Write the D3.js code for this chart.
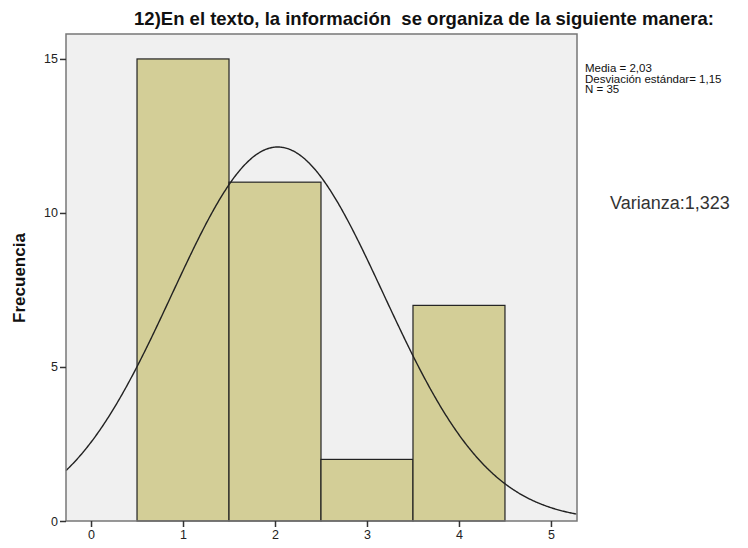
<!DOCTYPE html>
<html><head><meta charset="utf-8">
<script src="https://cdn.jsdelivr.net/npm/d3@7"></script>
<style>body{margin:0;background:#fff}svg{display:block}text{white-space:pre}</style>
</head><body>
<svg id="c" width="748" height="548"></svg>
<script>
const binCenters = [1, 2, 3, 4];
const counts = [15, 11, 2, 7];
const xTicks = [0, 1, 2, 3, 4, 5];
const yTicks = [0, 5, 10, 15];
const titleText = "12)En el texto, la información  se organiza de la siguiente manera:";
const statsLines = ["Media = 2,03", "Desviación estándar= 1,15", "N = 35"];
const mean = 2.03, sd = 1.15, N = 35;
const varianceText = "Varianza:1,323";

const svg = d3.select("#c");
const L = 66, R = 577, T = 34, B = 521;
const x = d3.scaleLinear().domain([-0.272, 5.283]).range([L, R]);
const y = d3.scaleLinear().domain([0, 15.81]).range([B, T]);

svg.append("rect").attr("x", L).attr("y", T).attr("width", R - L).attr("height", B - T)
  .attr("fill", "#f0f0f0");

svg.append("g").selectAll("rect.bar").data(binCenters).join("rect").attr("class", "bar")
  .attr("x", d => x(d - 0.5)).attr("y", (d, i) => y(counts[i]))
  .attr("width", d => x(d + 0.5) - x(d - 0.5))
  .attr("height", (d, i) => y(0) - y(counts[i]))
  .attr("fill", "#d3ce97").attr("stroke", "#222").attr("stroke-width", 1.2);

const pts = d3.range(-0.272, 5.284, 0.01).map(v => [v, N * Math.exp(-0.5 * ((v - mean) / sd) ** 2) / (sd * Math.sqrt(2 * Math.PI))]);
svg.append("path").datum(pts)
  .attr("d", d3.line().x(d => x(d[0])).y(d => y(d[1])))
  .attr("fill", "none").attr("stroke", "#222").attr("stroke-width", 1.4);

svg.append("rect").attr("x", L).attr("y", T).attr("width", R - L).attr("height", B - T)
  .attr("fill", "none").attr("stroke", "#777").attr("stroke-width", 1.5);

const font = "'Liberation Sans', Arial, sans-serif";
const xa = svg.append("g").attr("transform", `translate(0,${B})`)
  .call(d3.axisBottom(x).tickValues(xTicks).tickSize(6).tickPadding(3).tickFormat(d3.format("d")));
const ya = svg.append("g").attr("transform", `translate(${L},0)`)
  .call(d3.axisLeft(y).tickValues(yTicks).tickSize(6).tickPadding(2).tickFormat(d3.format("d")));
[xa, ya].forEach(a => {
  a.select(".domain").remove();
  a.selectAll("line").attr("stroke", "#333").attr("stroke-width", 1.5);
  a.selectAll("text").attr("font-family", font).attr("font-size", 12.5).attr("fill", "#222");
});

svg.append("text").attr("x", 424).attr("y", 25).attr("text-anchor", "middle")
  .attr("font-family", font).attr("font-weight", "bold").attr("font-size", 18.5).attr("fill", "#111")
  .text(titleText);

svg.append("text").attr("transform", `translate(25,${278}) rotate(-90)`).attr("text-anchor", "middle")
  .attr("font-family", font).attr("font-weight", "bold").attr("font-size", 17).attr("fill", "#111")
  .text("Frecuencia");

svg.append("g").selectAll("text").data(statsLines).join("text")
  .attr("x", 585).attr("y", (d, i) => 72 + i * 10.5)
  .attr("font-family", font).attr("font-size", 11.5).attr("fill", "#111").text(d => d);

svg.append("text").attr("x", 610).attr("y", 209)
  .attr("font-family", font).attr("font-size", 18).attr("fill", "#333").text(varianceText);
</script>
</body></html>
